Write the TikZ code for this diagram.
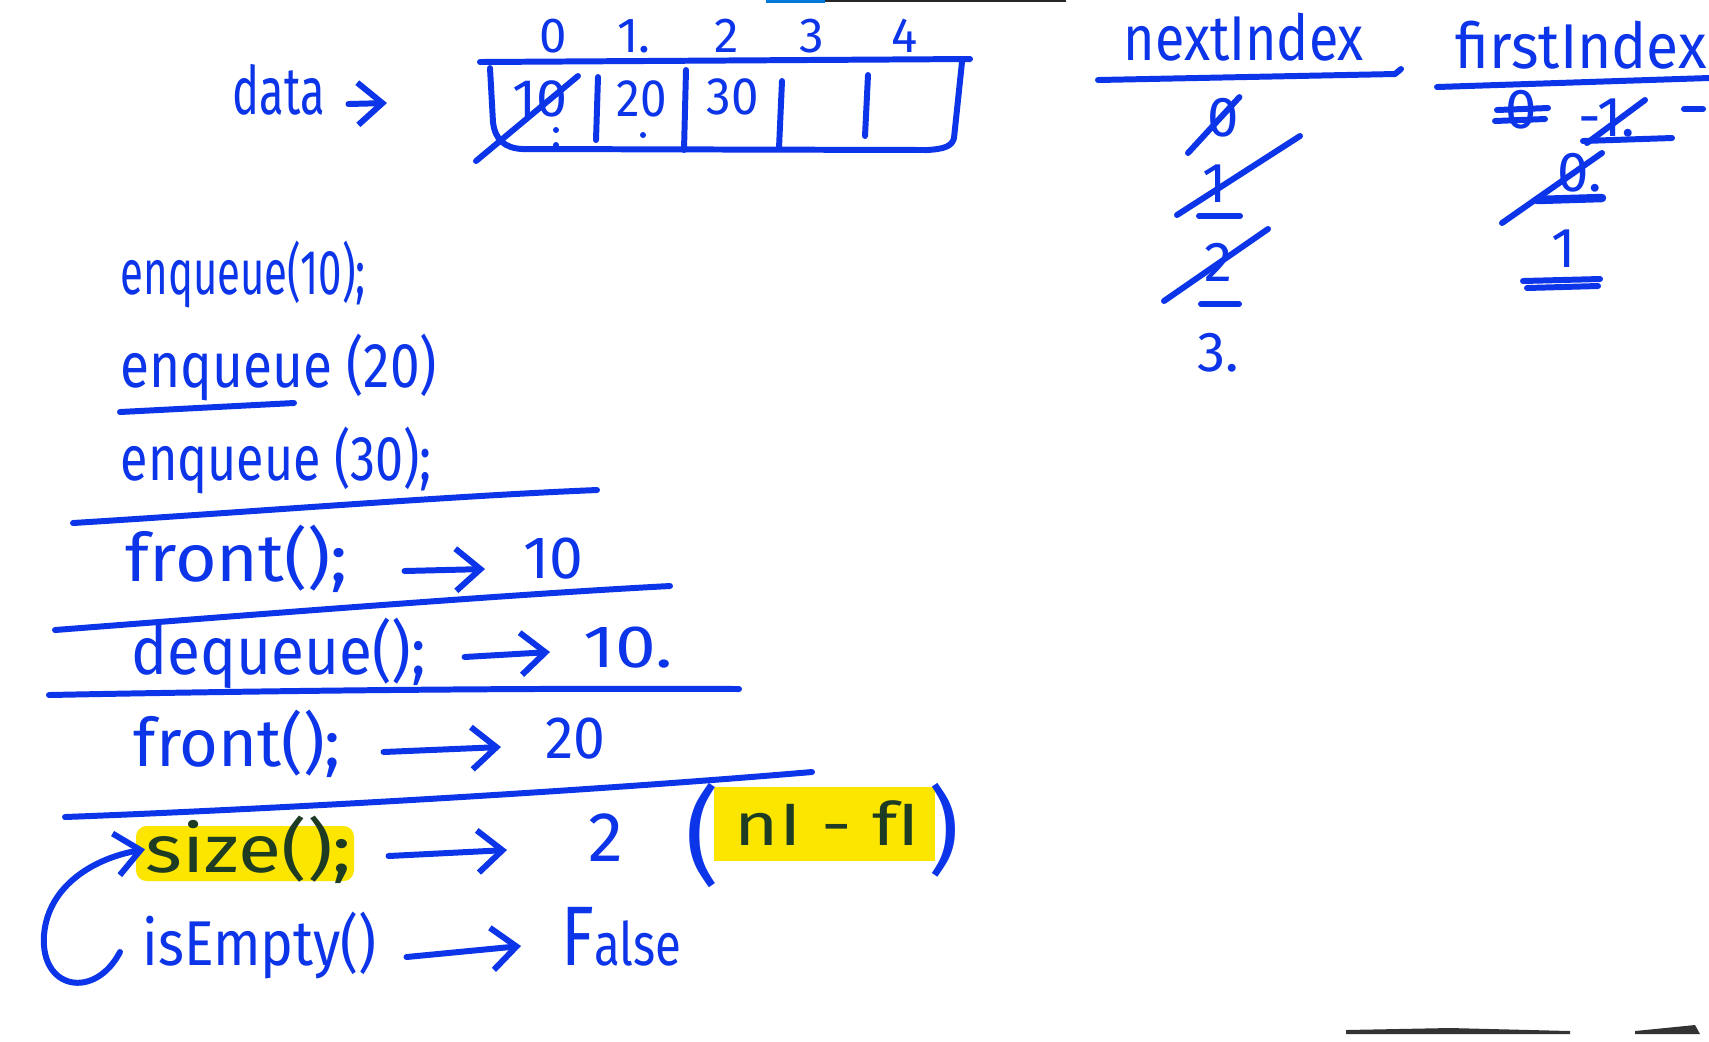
\documentclass[tikz,border=0pt]{standalone}
\usepackage{fontspec}
\setmainfont{Fira Sans}
\usepackage{graphicx}
\usetikzlibrary{arrows.meta,calc}
\definecolor{ink}{RGB}{12,52,232}
\definecolor{hl}{RGB}{252,230,0}
\definecolor{dk}{RGB}{30,60,35}
\definecolor{bar}{RGB}{0,120,215}
\newcommand\fitw[2]{\resizebox{#1}{\height}{#2}}
\begin{document}
\begin{tikzpicture}[x=0.01cm,y=-0.01cm,line cap=round,line join=round,
  hw/.style={inner sep=0pt,text=ink,anchor=base west,font=\fontsize{17}{17}\selectfont},
  hwc/.style={hw,anchor=base},
  dig/.style={hwc,font=\fontsize{16}{16}\selectfont},
  pen/.style={draw=ink,line width=1.7pt},
  arr/.style={pen,-{Straight Barb[length=7pt,width=12pt]}},
  dot/.style={fill=ink,draw=none}]
\fill[white] (0,0) rectangle (1709,1041);
\useasboundingbox (0,0) rectangle (1709,1041);
% top progress bar
\fill[bar] (766,0) rectangle (825,3);
\fill[black!85] (825,0) rectangle (1066,2);
% bottom right dark bits
\fill[black!80] (1346,1030) -- (1450,1028) -- (1570,1031) -- (1570,1034) -- (1346,1034) -- cycle;
\fill[black!80] (1635,1031) -- (1695,1025) -- (1700,1034) -- (1635,1034) -- cycle;

% data ->
\node[hw,font=\fontsize{19}{19}\selectfont] (data) at (232,114) {\fitw{0.92cm}{data}};
\coordinate (dataend) at (387,103);
\draw[arr] ($(data.base east)+(23,-10)$) -- (dataend);

% array
\draw[pen] (480,62) -- (970,59);
\draw[pen] (490,68) -- (493,122) .. controls (495,140) and (505,148) .. (522,149) -- (927,150) .. controls (945,149) and (952,146) .. (954,138) -- (962,62);
\draw[pen] (598,77) -- (596,140);
\draw[pen] (686,70) -- (684,150);
\draw[pen] (782,81) -- (779,148);
\draw[pen] (868,75) -- (865,136);
\node[dig,font=\fontsize{14}{14}\selectfont] (i0) at (553,52) {0};
\node[dig,font=\fontsize{14}{14}\selectfont] (i1) at (634,52) {1.};
\node[dig,font=\fontsize{14}{14}\selectfont] (i2) at (727,52) {2};
\node[dig,font=\fontsize{14}{14}\selectfont] (i3) at (812,52) {3};
\node[dig,font=\fontsize{14}{14}\selectfont] (i4) at (905,52) {4};
\node[hw,font=\fontsize{15}{15}\selectfont] (v0) at (512,116) {\fitw{0.55cm}{10}};
\node[hw,font=\fontsize{15}{15}\selectfont] (v1) at (616,116) {\fitw{0.5cm}{20}};
\node[hw,font=\fontsize{15}{15}\selectfont] (v2) at (706,114) {\fitw{0.52cm}{30}};
\draw[pen] (476,161) -- (578,76);
\fill[dot] (556,130) circle (3) (556,145) circle (3) (643,135) circle (3);

% left column
\node[hw,font=\fontsize{18}{18}\selectfont] (e1) at (120,294) {\fitw{2.45cm}{enqueue(10);}};
\node[hw,font=\fontsize{18}{18}\selectfont] (e2) at (120,387) {\fitw{3.16cm}{enqueue (20)}};
\draw[pen] (120,412) -- (294,403);
\node[hw,font=\fontsize{18}{18}\selectfont] (e3) at (120,480) {\fitw{3.11cm}{enqueue (30);}};
\draw[pen] (73,523) .. controls (250,512) and (450,496) .. (597,490);

\node[hw,font=\fontsize{19}{19}\selectfont] (f1) at (125,581) {\fitw{2.22cm}{front();}};
\node[hw] (r1) at (523,578) {\fitw{0.6cm}{10}};
\draw[arr] ($(f1.base east)+(56,-10)$) -- ($(r1.base west)+(-38,-9)$);
\draw[pen] (55,630) .. controls (250,615) and (500,595) .. (670,586);

\node[hw,font=\fontsize{19}{19}\selectfont] (dq) at (131,674) {\fitw{2.94cm}{dequeue();}};
\node[hw] (r2) at (583,667) {\fitw{0.89cm}{10.}};
\draw[arr] ($(dq.base east)+(38,-17)$) -- ($(r2.base west)+(-33,-15)$);
\draw[pen] (49,695) .. controls (300,690) and (550,688) .. (739,689);

\node[hw,font=\fontsize{19}{19}\selectfont] (f2) at (133,766) {\fitw{2.07cm}{front();}};
\node[hw] (r3) at (545,758) {\fitw{0.6cm}{20}};
\draw[arr] ($(f2.base east)+(42,-14)$) -- ($(r3.base west)+(-44,-11)$);
\draw[pen] (65,817) .. controls (300,808) and (600,790) .. (812,772);

\fill[hl,rounded corners=3pt] (136,826) rectangle (354,881);
\fill[hl] (714,787) rectangle (935,861);
\node[hw,text=dk,font=\fontsize{19}{19}\selectfont] (sz) at (145,872) {\fitw{2.06cm}{size();}};
\node[hw,font=\fontsize{20}{20}\selectfont] (r4) at (588,861) {2};
\draw[arr] ($(sz.base east)+(36,-16)$) -- ($(r4.base west)+(-81,-11)$);
\node[inner sep=0pt,text=ink,font=\fontsize{30}{30}\selectfont] (lp) at (703,836) {(};
\node[hw,text=dk] (nf) at (734,845) {\fitw{1.85cm}{nI - fI}};
\node[inner sep=0pt,text=ink,font=\fontsize{27}{27}\selectfont] (rp) at (944,830) {)};

\node[hw,font=\fontsize{18}{18}\selectfont] (isE) at (142,965) {\fitw{2.34cm}{isEmpty()}};
\node[hw] (fa) at (561,965) {\fitw{1.2cm}{{\fontsize{24}{24}\selectfont F}alse}};
\draw[arr] ($(isE.base east)+(29,-8)$) -- ($(fa.base west)+(-40,-19)$);
\draw[arr] ($(isE.west)+(-22,7)$) .. controls (95,1000) and (40,990) .. (44,935) .. controls (48,885) and (95,858) .. (sz.west);

% nextIndex column
\node[hw,font=\fontsize{18}{18}\selectfont] (nxt) at (1123,60) {\fitw{2.4cm}{nextIndex}};
\draw[pen] (1098,80) -- (1395,74) -- (1401,69);
\node[dig] (n0) at (1223,136) {0};
\draw[pen] (1188,153) -- (n0.north east);
\node[dig] (n1) at (1215,202) {1};
\draw[pen] (1177,215) -- (1300,136);
\draw[pen] (1199,216) -- (1240,216);
\node[dig] (n2) at (1218,281) {2};
\draw[pen] (1164,301) -- (1268,229);
\draw[pen] (1201,304) -- (1239,304);
\node[dig] (n3) at (1218,371) {3.};

% firstIndex column
\node[hw,font=\fontsize{18}{18}\selectfont] (fst) at (1455,68) {\fitw{2.51cm}{firstIndex}};
\draw[pen] (1437,87) -- (1709,78);
\node[dig] (g0) at (1521,128) {0};
\draw[pen] (1497,110) -- (1548,108);
\draw[pen] (1495,121) -- (1545,119);
\node[hw,font=\fontsize{16}{16}\selectfont] (g1) at (1578,136) {-1.};
\draw[pen] (1587,143) -- (1645,100);
\draw[pen] (1583,141) -- (1672,138);
\draw[pen] (1684,109) -- (1703,109);
\node[dig] (g2) at (1580,191) {0.};
\draw[pen] (1502,223) -- (1602,153);
\draw[pen,line width=2.4pt] (1537,200) -- (1602,198);
\node[dig] (g3) at (1564,267) {1};
\draw[pen] (1523,281) -- (1600,279);
\draw[pen] (1527,288) -- (1598,286);
\end{tikzpicture}
\end{document}
